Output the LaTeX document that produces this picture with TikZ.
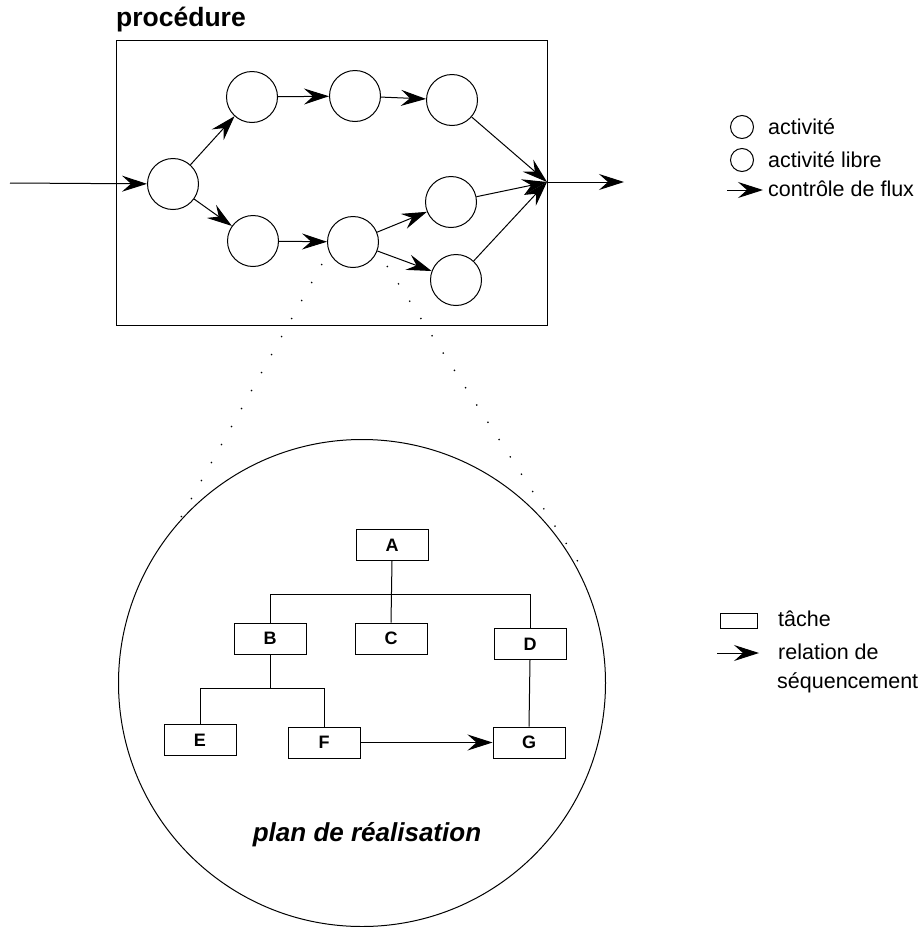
\documentclass[tikz,border=0pt]{standalone}
\usepackage{fontspec}
\setmainfont{Liberation Sans}
\usetikzlibrary{arrows.meta}
\tikzset{
  act/.style={draw, circle, minimum size=51pt, inner sep=0pt, line width=1pt},
  legact/.style={draw, circle, minimum size=23pt, inner sep=0pt, line width=1pt},
  task/.style={draw, rectangle, minimum width=72pt, minimum height=31pt, inner sep=0pt, line width=1pt, font=\fontsize{18}{18}\selectfont\bfseries},
  flow/.style={line width=1pt, -{Stealth[length=25pt, width=16pt, inset=9pt]}},
  zoomline/.style={line width=1.3pt, dash pattern=on 1.3pt off 19.3pt},
  legtext/.style={anchor=west, inner sep=0pt, font=\fontsize{21.5}{21.5}\selectfont},
}
\begin{document}
\begin{tikzpicture}[x=1pt, y=-1pt]
\useasboundingbox (0,0) rectangle (922,927);
% procedure box
\node[draw, line width=1pt, minimum width=431pt, minimum height=285pt, inner sep=0pt] (proc) at (331.5,182.5) {};
\node[anchor=west, inner sep=0pt, font=\fontsize{26.5}{26.5}\selectfont\bfseries] (proclabel) at (116,20) {procédure};
% activities
\node[act] (c0) at (173,184) {};
\node[act] (u1) at (252,97) {};
\node[act] (u2) at (355,96) {};
\node[act] (u3) at (452,100) {};
\node[act] (l1) at (253,241) {};
\node[act] (l2) at (353,242) {};
\node[act] (m3) at (451,202) {};
\node[act] (l3) at (456,280) {};
\coordinate (in) at (10,183);
\coordinate (conv) at (547,182);
\coordinate (out) at (624,182);
\draw[flow] (in) -- (c0);
\draw[flow] (c0) -- (u1);
\draw[flow] (c0) -- (l1);
\draw[flow] (u1) -- (u2);
\draw[flow] (u2) -- (u3);
\draw[flow] (l1) -- (l2);
\draw[flow] (l2) -- (m3);
\draw[flow] (l2) -- (l3);
\draw[flow] (u3) -- (conv);
\draw[flow] (m3) -- (conv);
\draw[flow] (l3) -- (conv);
\draw[flow] (conv) -- (out);
% zoom lines
\coordinate (dl1) at (322,264);
\coordinate (dl2) at (175,528);
\coordinate (dr1) at (387,266);
\coordinate (dr2) at (584,571);
\draw[zoomline] (dl1) -- (dl2);
\draw[zoomline] (dr1) -- (dr2);
% big circle
\node[draw, circle, line width=1pt, minimum size=487pt, inner sep=0pt] (plan) at (362,683) {};
% tasks
\node[task] (A) at (392,545) {A};
\node[task] (B) at (270,638.5) {B};
\node[task] (C) at (391,638.5) {C};
\node[task] (D) at (530,644) {D};
\node[task] (E) at (200,740) {E};
\node[task] (F) at (324,742.5) {F};
\node[task] (G) at (529,742.5) {G};
\coordinate (abar) at (392,594);
\coordinate (bbar) at (269,688);
\draw[line width=1pt] (A.south) -- (C.north);
\draw[line width=1pt] (B.north) -- (B.north |- abar) -- (D.north |- abar) -- (D.north);
\draw[line width=1pt] (B.south) -- (B.south |- bbar);
\draw[line width=1pt] (E.north) -- (E.north |- bbar) -- (F.north |- bbar) -- (F.north);
\draw[line width=1pt] (D.south) -- (G.north);
\draw[flow] (F.east) -- (G.west);
\node[inner sep=0pt, font=\fontsize{26}{26}\selectfont\bfseries\itshape] (plantitle) at (367,835) {plan de réalisation};
% legend top
\node[legact] (lc1) at (742,127) {};
\node[legact] (lc2) at (742,160) {};
\node[legtext] (lt1) at (768,127) {activité};
\node[legtext] (lt2) at (768,160) {activité libre};
\coordinate (la1) at (727,190);
\coordinate (la2) at (763,190);
\draw[flow] (la1) -- (la2);
\node[legtext] (lt3) at (768,189) {contrôle de flux};
% legend bottom
\node[draw, rectangle, line width=1pt, minimum width=37pt, minimum height=15pt, inner sep=0pt] (lr) at (738.5,620.5) {};
\node[legtext] (lt4) at (778,619) {tâche};
\coordinate (lb1) at (717,653);
\coordinate (lb2) at (759,653);
\draw[flow] (lb1) -- (lb2);
\node[legtext] (lt5) at (778,652) {relation de};
\node[legtext] (lt6) at (777,683) {séquencement};
\end{tikzpicture}
\end{document}
